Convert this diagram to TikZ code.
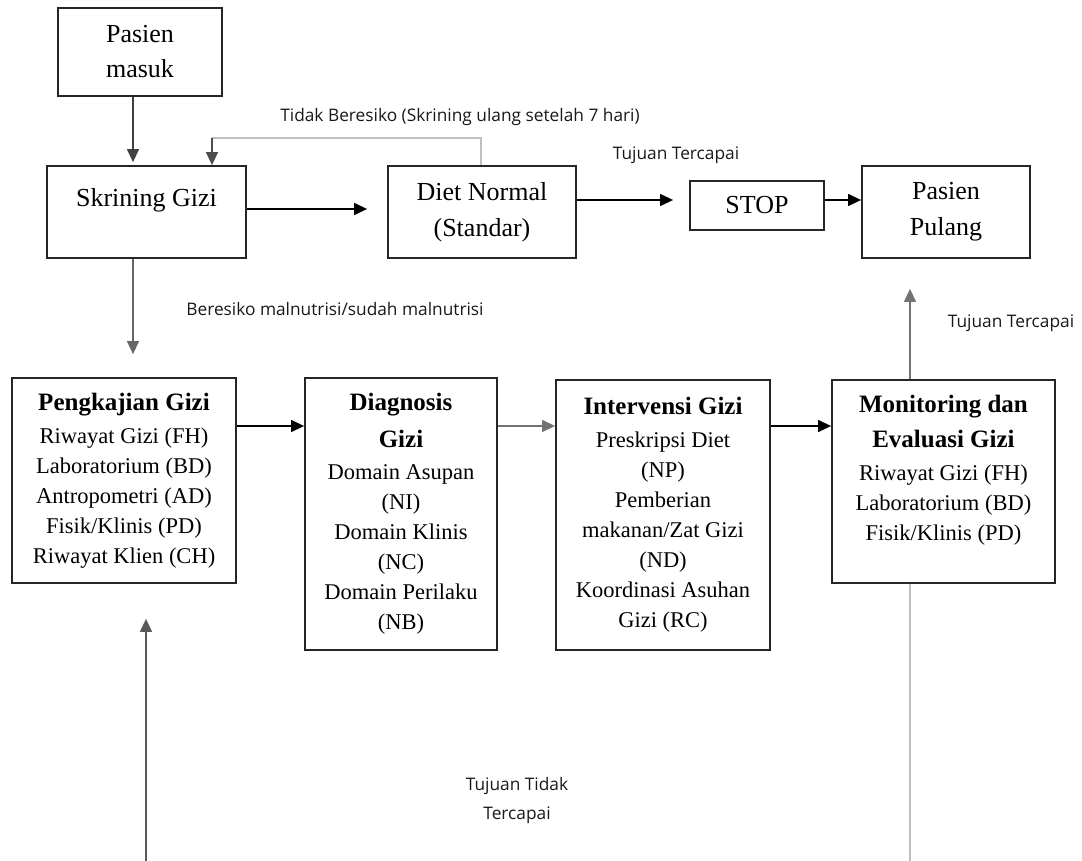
\documentclass[tikz,border=0pt]{standalone}
\usepackage{fontspec}
\setmainfont{Liberation Serif}
\newfontfamily\lblfont{Open Sans}
\usetikzlibrary{arrows.meta}
\begin{document}
\begin{tikzpicture}[x=1pt,y=-1pt]
\tikzset{
  bx/.style={draw=black!85, line width=1.8pt, inner sep=2pt, align=center, font=\fontsize{26}{36}\selectfont},
  bodybx/.style={draw=black!85, line width=1.8pt, inner sep=2pt, align=center, font=\fontsize{22.5}{30}\selectfont},
  lbl/.style={font=\lblfont\fontsize{17.3}{29}\selectfont, text=black!90, inner sep=0pt, align=center},
  arr/.style={line width=1.3pt, draw=black, -{Triangle[length=13pt,width=12pt]}},
  garr/.style={arr, draw=black!55},
  lgl/.style={line width=1.3pt, draw=black!25},
}
\newcommand{\hdr}[1]{{\bfseries\fontsize{25}{36}\selectfont #1}}
\useasboundingbox[fill=white] (0,0) rectangle (1082,861);

% top row
\node[bx, minimum width=164pt, minimum height=88pt] (pm) at (140,52) {Pasien\\[-1pt]masuk};
\node[bx, minimum width=199pt, minimum height=92pt] (sk) at (146.5,212) {Skrining Gizi\\[-17pt]\strut};
\node[bx, minimum width=188pt, minimum height=92pt] (dt) at (482,212) {Diet Normal\\(Standar)};
\node[bx, minimum width=134pt, minimum height=49pt] (st) at (757,205.5) {STOP};
\node[bx, minimum width=168pt, minimum height=92pt] (pp) at (946,212) {Pasien\\Pulang};

% bottom row
\node[bodybx, minimum width=224pt, minimum height=205pt] (pk) at (124,480.5)
  {\hdr{Pengkajian Gizi}\\[3pt] Riwayat Gizi (FH)\\ Laboratorium (BD)\\ Antropometri (AD)\\ Fisik/Klinis (PD)\\ Riwayat Klien (CH)};
\node[bodybx, minimum width=192pt, minimum height=272pt] (dg) at (401,514)
  {\hdr{Diagnosis}\\[7pt] \hdr{Gizi}\\[2pt] Domain Asupan\\ (NI)\\ Domain Klinis\\ (NC)\\ Domain Perilaku\\ (NB)};
\node[bodybx, minimum width=214pt, minimum height=270pt] (iv) at (663,515)
  {\hdr{Intervensi Gizi}\\[3pt] Preskripsi Diet\\ (NP)\\ Pemberian\\ makanan/Zat Gizi\\ (ND)\\ Koordinasi Asuhan\\ Gizi (RC)};
\node[bodybx, minimum width=223pt, minimum height=203pt] (mn) at (943.5,481.5)
  {\hdr{Monitoring dan}\\[5pt] \hdr{Evaluasi Gizi}\\[3pt] Riwayat Gizi (FH)\\ Laboratorium (BD)\\ Fisik/Klinis (PD)\\[-12pt]\strut};

% labels
\node[lbl] (l1) at (460,117) {Tidak Beresiko (Skrining ulang setelah 7 hari)};
\node[lbl] (l2) at (676,155) {Tujuan Tercapai};
\node[lbl] (l3) at (335,309) {Beresiko malnutrisi/sudah malnutrisi};
\node[lbl] (l4) at (1011,323) {Tujuan Tercapai};
\node[lbl] (l5) at (517,801) {Tujuan Tidak\\Tercapai};

% helper coordinates
\coordinate (xa) at (133,0);
\coordinate (xb) at (146,861);
\coordinate (xc) at (910,861);
\coordinate (ya) at (0,209);
\coordinate (yb) at (0,200);
\coordinate (yc) at (0,426);
\coordinate (fb1) at (481,138);
\coordinate (fb2) at (212,138);

% connectors
\draw[arr, draw=black!75, shorten >=3pt] (pm.south -| xa) -- (sk.north -| xa);
\draw[garr, draw=black!60, shorten >=23pt] (sk.south -| xa) -- (pk.north -| xa);
\draw[lgl] (dt.north -| fb1) -- (fb1) -- (fb2);
\draw[arr, draw=black!70] (fb2) -- (sk.north -| fb2);
\draw[arr, shorten >=20pt] (sk.east |- ya) -- (dt.west |- ya);
\draw[arr, shorten >=16pt] (dt.east |- yb) -- (st.west |- yb);
\draw[arr] (st.east |- yb) -- (pp.west |- yb);
\draw[arr] (pk.east |- yc) -- (dg.west |- yc);
\draw[garr] (dg.east |- yc) -- (iv.west |- yc);
\draw[arr] (iv.east |- yc) -- (mn.west |- yc);
\draw[garr, shorten >=30pt] (mn.north -| xc) -- (pp.south -| xc);
\draw[lgl] (mn.south -| xc) -- (xc);
\draw[garr, draw=black!65, shorten >=35pt] (xb) -- (pk.south -| xb);
\end{tikzpicture}
\end{document}
